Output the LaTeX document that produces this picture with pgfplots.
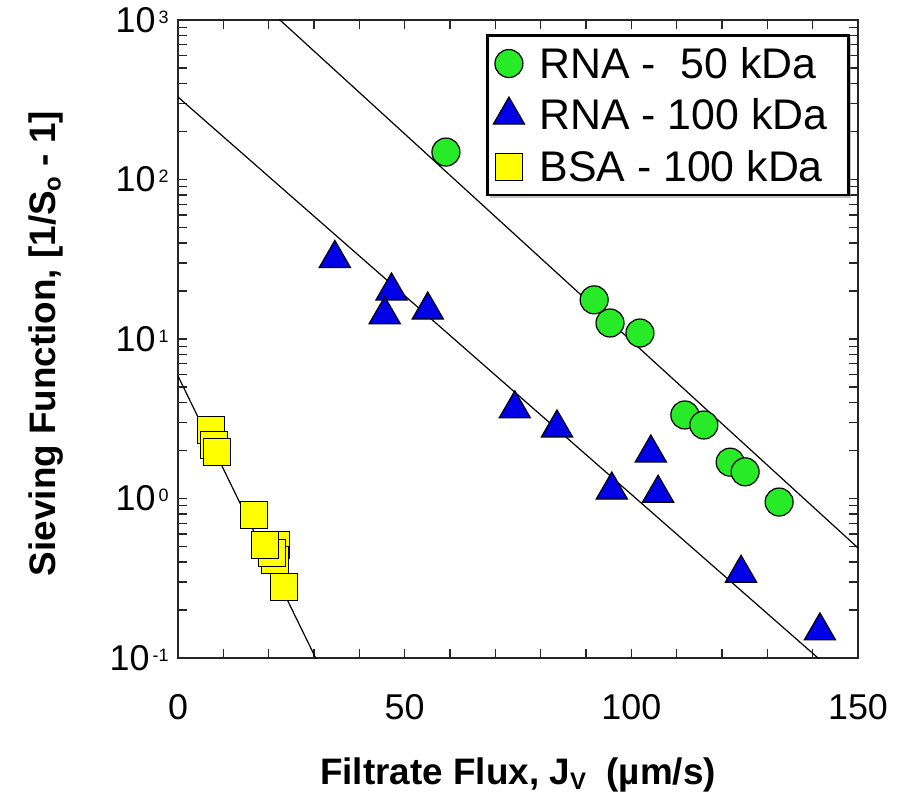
\documentclass[border=0pt]{standalone}
\usepackage{fontspec}
\setmainfont{Liberation Sans}
\usepackage{pgfplots}
\pgfplotsset{compat=1.18}
\usetikzlibrary{shadows}
\definecolor{cgreen}{RGB}{40,235,40}
\definecolor{cblue}{RGB}{0,0,230}
\definecolor{cyellow}{RGB}{255,255,0}
\newcommand\ysup[1]{10\hspace{3bp}\raisebox{9bp}{\fontsize{18}{20}\selectfont #1}}
\newcommand\lsub[1]{\raisebox{-5bp}{\fontsize{24}{26}\selectfont #1}}
\begin{document}
\begin{tikzpicture}
\path[use as bounding box] (-178bp,-142bp) rectangle (727bp,658bp);
\begin{axis}[
  scale only axis, width=680bp, height=638bp,
  xmin=0, xmax=150, ymin=0.1, ymax=1000, ymode=log,
  axis line style={line width=2.2bp, black!85},
  xtick={0,50,100,150}, minor xtick={10,20,30,40,60,70,80,90,110,120,130,140},
  ytick={0.1,1,10,100,1000},
  yticklabels={\ysup{-1},\ysup{0},\ysup{1},\ysup{2},\ysup{3}},
  minor ytick={0.2,0.3,0.4,0.5,0.6,0.7,0.8,0.9,2,3,4,5,6,7,8,9,20,30,40,50,60,70,80,90,200,300,400,500,600,700,800,900},
  tick align=inside, major tick length=9bp, minor tick length=9bp,
  every tick/.style={line width=1.3bp, black!85},
  /pgf/number format/assume math mode=true,
  tick label style={font=\fontsize{36}{40}\selectfont},
  xticklabel style={yshift=-33bp},
  yticklabel style={xshift=-6bp},
  xlabel={\textbf{Filtrate Flux, J\lsub{V}\ \ (µm/s)}},
  ylabel={\textbf{Sieving Function, [1/S\lsub{o} - 1]}},
  label style={font=\fontsize{37}{42}\selectfont},
  xlabel style={at={(axis description cs:0.5,-0.1834)}, anchor=center},
  ylabel style={at={(axis description cs:-0.194,0.493)}, anchor=center},
  legend style={at={(axis description cs:0.988,0.978)}, anchor=north east,
    draw=black, line width=2.5bp, fill=white, drop shadow,
    font=\fontsize{43}{46}\selectfont, inner xsep=6bp, inner ysep=9bp,
    nodes={inner sep=3bp}, row sep=13bp,
    /tikz/every odd column/.append style={column sep=12bp}},
  legend cell align=left,
]
% fit lines
\addplot[black, line width=1.2bp, forget plot] coordinates {(0,3837) (150,0.49)};
\addplot[black, line width=1.2bp, forget plot] coordinates {(0,329) (150,0.0603)};
\addplot[black, line width=1.2bp, forget plot] coordinates {(0,5.86) (40,0.0275)};
% data
\addplot[only marks, mark=*, mark size=14bp, mark options={fill=cgreen, draw=black, line width=1.2bp}]
 coordinates {(59.1,148.6) (91.8,17.6) (95.3,12.6) (101.9,10.9) (111.8,3.34) (116.0,2.89) (121.8,1.69) (125.1,1.47) (132.6,0.95)};
\addlegendentry{RNA - \hspace{0.3em}50 kDa}
\addplot[only marks, mark=triangle*, mark size=18bp, mark options={fill=cblue, draw=black, line width=1.2bp}]
 coordinates {(34.6,32) (47.1,20) (45.6,14.2) (55.1,15.2) (74.3,3.65) (83.6,2.77) (95.7,1.13) (104.3,1.93) (105.9,1.08) (124.2,0.34) (141.6,0.148)};
\addlegendentry{RNA - 100 kDa\hspace*{12bp}}
\addplot[only marks, mark=square*, mark size=13.5bp, mark options={fill=cyellow, draw=black, line width=1.2bp}]
 coordinates {(7.3,2.69) (7.9,2.16) (8.6,1.96) (16.8,0.79) (21.6,0.51) (21.4,0.41) (20.7,0.455) (19.2,0.51) (23.4,0.279)};
\addlegendentry{BSA - 100 kDa}
\end{axis}
\end{tikzpicture}
\end{document}
